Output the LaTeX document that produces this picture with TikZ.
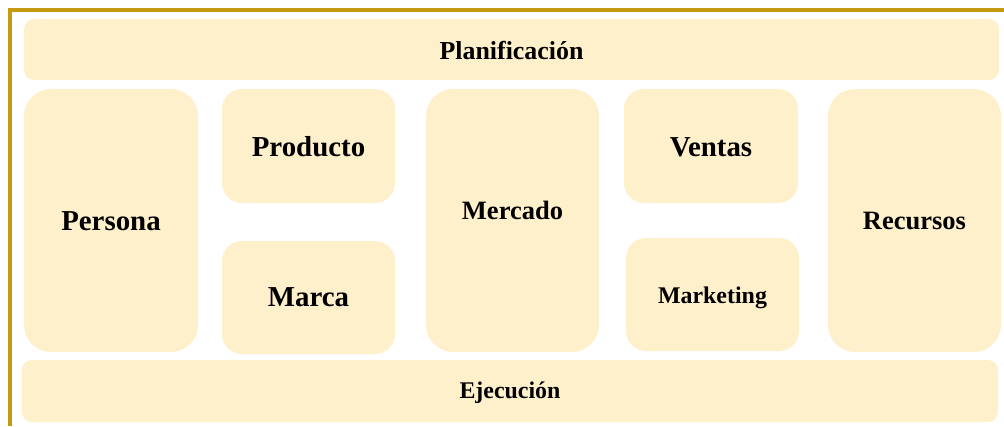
\documentclass[tikz,border=0pt]{standalone}
\usepackage{fontspec}
\setmainfont{Liberation Serif}
\definecolor{boxfill}{HTML}{FFF0CC}
\definecolor{gold}{HTML}{C49A10}
\tikzset{
  tile/.style={fill=boxfill, draw=none, inner sep=0pt, font=\bfseries},
  bigr/.style={rounded corners=27bp},
  midr/.style={rounded corners=20bp},
  smallr/.style={rounded corners=10bp},
  fbig/.style={font=\fontsize{29}{32}\selectfont\bfseries},
  fmid/.style={font=\fontsize{26.6}{30}\selectfont\bfseries},
  fplan/.style={font=\fontsize{26}{30}\selectfont\bfseries},
  fsmall/.style={font=\fontsize{24}{28}\selectfont\bfseries},
  frame/.style={draw=gold, line width=4bp},
  up/.style={text height=#1, text depth=0bp},
  down/.style={text height=0bp, text depth=#1}
}
\begin{document}
\begin{tikzpicture}[x=1bp,y=-1bp]
\useasboundingbox (0,0) rectangle (1004,426);
\coordinate (tl) at (10,10);
\coordinate (tr) at (1004,10);
\coordinate (bl) at (10,426);
\draw[frame] (tr) -- (tl) -- (bl);
% wide bars
\node[tile,smallr,fplan,up=19.6bp,minimum width=975bp,minimum height=61bp] (plan) at (511.5,49.5) {Planificación};
\node[tile,smallr,fsmall,up=14.6bp,minimum width=976bp,minimum height=62bp] (ejec) at (510,391) {Ejecución};
% tall tiles
\node[tile,bigr,fbig,up=19bp,minimum width=174bp,minimum height=263bp] (persona) at (111,220.5) {Persona};
\node[tile,bigr,fmid,down=2.4bp,minimum width=173bp,minimum height=263bp] (mercado) at (512.5,220.5) {Mercado};
\node[tile,bigr,fmid,up=17.6bp,minimum width=173bp,minimum height=263bp] (recursos) at (914.5,220.5) {Recursos};
% small tiles
\node[tile,midr,fbig,up=20bp,minimum width=173bp,minimum height=114bp] (producto) at (308.5,146) {Producto};
\node[tile,midr,fbig,up=18.4bp,minimum width=173bp,minimum height=113bp] (marca) at (308.5,297.5) {Marca};
\node[tile,midr,fbig,up=20bp,minimum width=174bp,minimum height=114bp] (ventas) at (711,146) {Ventas};
\node[tile,midr,fsmall,up=17.6bp,minimum width=173bp,minimum height=113bp] (marketing) at (712.5,294.5) {Marketing};
\end{tikzpicture}
\end{document}
